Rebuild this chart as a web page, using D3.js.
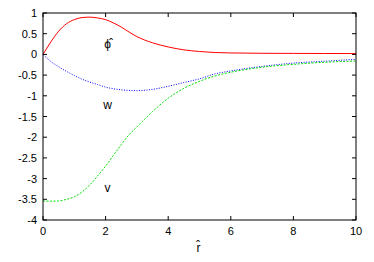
<!DOCTYPE html>
<html><head><meta charset="utf-8">
<script src="https://cdn.jsdelivr.net/npm/d3@7"></script>
<style>
html,body{margin:0;padding:0;background:#fff;}
svg{display:block;font-family:"Liberation Sans",Arial,sans-serif;}
</style></head>
<body><svg id="c" width="374" height="262"></svg>
<script>
const rVals   = [0,0.25,0.5,0.75,1,1.25,1.5,1.75,2,2.25,2.5,2.75,3,3.5,4,4.5,5,5.5,6,7,8,9,10];
const phiVals = [0,0.30,0.56,0.74,0.84,0.89,0.90,0.88,0.84,0.76,0.66,0.54,0.43,0.28,0.18,0.11,0.07,0.045,0.035,0.027,0.024,0.022,0.02];
const wVals   = [0,-0.17,-0.30,-0.41,-0.51,-0.60,-0.67,-0.73,-0.79,-0.83,-0.855,-0.87,-0.875,-0.845,-0.77,-0.68,-0.59,-0.47,-0.40,-0.29,-0.21,-0.165,-0.12];
const vVals   = [-3.54,-3.545,-3.54,-3.50,-3.44,-3.32,-3.15,-2.93,-2.70,-2.44,-2.18,-1.94,-1.75,-1.38,-1.06,-0.82,-0.65,-0.52,-0.43,-0.31,-0.24,-0.19,-0.16];
const xTicks = [0,2,4,6,8,10];
const yTicks = [1,0.5,0,-0.5,-1,-1.5,-2,-2.5,-3,-3.5,-4];
const curveLabels = [
  {text:"ϕ\u0302", v:0.26},
  {text:"w", v:-1.22},
  {text:"v", v:-3.22}
];
const xLabel = "r\u0302";

const svg = d3.select("#c");
const L=43, R=356, T=13, B=220;
const x = d3.scaleLinear().domain([0,10]).range([L,R]);
const y = d3.scaleLinear().domain([-4,1]).range([B,T]);
const tl = 4;

const g = svg.append("g");
xTicks.forEach(t=>{
  g.append("line").attr("x1",x(t)).attr("x2",x(t)).attr("y1",B).attr("y2",B-tl).attr("stroke","#000");
  g.append("line").attr("x1",x(t)).attr("x2",x(t)).attr("y1",T).attr("y2",T+tl).attr("stroke","#000");
  g.append("text").attr("x",x(t)).attr("y",B+15).attr("text-anchor","middle").attr("font-size",11).text(t);
});
yTicks.forEach(t=>{
  g.append("line").attr("x1",L).attr("x2",L+tl).attr("y1",y(t)).attr("y2",y(t)).attr("stroke","#000");
  g.append("line").attr("x1",R).attr("x2",R-tl).attr("y1",y(t)).attr("y2",y(t)).attr("stroke","#000");
  g.append("text").attr("x",L-6).attr("y",y(t)+4).attr("text-anchor","end").attr("font-size",11).text(t);
});

const data = (vals)=>rVals.map((r,i)=>[r,vals[i]]);
const line = d3.line().x(d=>x(d[0])).y(d=>y(d[1])).curve(d3.curveMonotoneX);
svg.append("path").attr("d",line(data(phiVals))).attr("fill","none").attr("stroke","#ff0000").attr("stroke-width",1);
svg.append("path").attr("d",line(data(wVals))).attr("fill","none").attr("stroke","#0000ff").attr("stroke-width",1).attr("stroke-dasharray","1,1.5");
svg.append("path").attr("d",line(data(vVals))).attr("fill","none").attr("stroke","#00e000").attr("stroke-width",1).attr("stroke-dasharray","2,1.5");

svg.append("rect").attr("x",L).attr("y",T).attr("width",R-L).attr("height",B-T).attr("fill","none").attr("stroke","#000").attr("stroke-width",1);

const lx = x(2)+2;
curveLabels.forEach(c=>{
  svg.append("text").attr("x",lx).attr("y",y(c.v)+4).attr("text-anchor","middle").attr("font-size",12).text(c.text);
});
svg.append("text").attr("x",x(5)-1).attr("y",252).attr("text-anchor","middle").attr("font-size",12).text(xLabel);
</script></body></html>
